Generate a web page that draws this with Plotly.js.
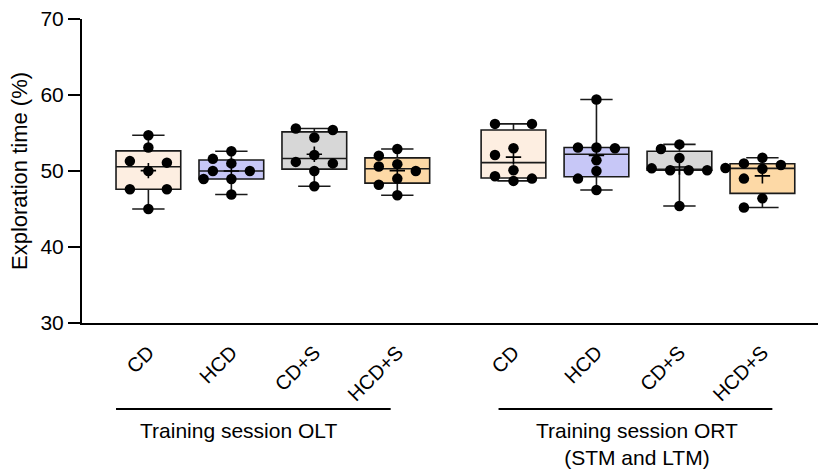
<!DOCTYPE html>
<html>
<head>
<meta charset="utf-8">
<script src="https://cdn.plot.ly/plotly-3.0.1.min.js"></script>
<style>html,body{margin:0;padding:0;background:#fff;}#chart{width:820px;height:469px;}</style>
</head>
<body>
<div id="chart"></div>
<script>
// ---- data ----
const categories = ['CD', 'HCD', 'CD+S', 'HCD+S'];
const sessionLabels = ['Training session OLT', 'Training session ORT<br>(STM and LTM)'];
const yTicks = [30, 40, 50, 60, 70];
const yTitle = 'Exploration time (%)';

const olt_CD   = [54.7, 53.1, 51.3, 51.1, 50.0, 47.6, 47.6, 45.0];
const olt_HCD  = [52.6, 51.6, 51.0, 50.0, 50.0, 48.95, 48.95, 46.9];
const olt_CDS  = [55.6, 55.4, 54.4, 52.1, 51.2, 51.0, 50.0, 48.0];
const olt_HCDS = [52.9, 52.0, 50.9, 50.6, 50.0, 49.0, 48.2, 46.8];

const ort_CD   = [56.2, 56.2, 53.0, 52.1, 50.1, 49.3, 49.0, 48.7];
const ort_HCD  = [59.4, 53.1, 53.1, 53.0, 51.4, 50.0, 49.0, 47.5];
const ort_CDS  = [53.5, 52.9, 51.7, 50.35, 50.1, 50.1, 50.1, 45.4];
const ort_HCDS = [51.75, 51.0, 50.8, 50.4, 50.3, 49.0, 46.4, 45.2];

const sessions = [
  [olt_CD, olt_HCD, olt_CDS, olt_HCDS],
  [ort_CD, ort_HCD, ort_CDS, ort_HCDS]
];

// ---- styles / layout constants ----
const fills = ['#FDEEE1', '#C7C7F7', '#D7D7D7', '#FDD9A6'];
const FONT = 'Liberation Sans, Arial, sans-serif';
const SESSION_STRIDE = 4.4;   // category units between session starts
const BOX_W = 0.78;
const PX_PER_X = 83;          // approx px per x unit
const PX_PER_Y = 7.6;         // approx px per y unit
const DOT_STEP_PX = 18.5;     // horizontal spacing between dot columns
const DOT_CLEAR = 10.5;       // min centre distance between dots (px)

// GraphPad-style (n+1) quantile
function quantile(sorted, p) {
  const n = sorted.length;
  const h = (n + 1) * p;
  if (h <= 1) return sorted[0];
  if (h >= n) return sorted[n - 1];
  const lo = Math.floor(h);
  return sorted[lo - 1] + (h - lo) * (sorted[lo] - sorted[lo - 1]);
}

// simple deterministic beeswarm offsets (in dot-column units)
function swarm(vals) {
  const order = vals.map((v, i) => i).sort((a, b) => vals[b] - vals[a]);
  const rows = [];
  order.forEach(i => {
    const last = rows[rows.length - 1];
    if (last && vals[last[last.length - 1]] - vals[i] <= 0.35) last.push(i);
    else rows.push([i]);
  });
  const placed = [];
  const off = new Array(vals.length).fill(0);
  const collides = (v, o, extra) => placed.concat(extra || []).some(p =>
    Math.hypot((p.o - o) * DOT_STEP_PX, (p.v - v) * PX_PER_Y) < DOT_CLEAR);
  const cands = [0, -1, 1, -0.5, 0.5, -1.5, 1.5, -2, 2, -2.5, 2.5, -3, 3];
  rows.forEach(row => {
    const n = row.length;
    if (n > 1) {
      const base = n === 2 ? [-1, 1] : row.map((_, k) => k - (n - 1) / 2);
      const tmp = [];
      let ok = true;
      row.forEach((i, k) => {
        if (collides(vals[i], base[k], tmp)) ok = false;
        tmp.push({v: vals[i], o: base[k]});
      });
      if (ok) {
        row.forEach((i, k) => { off[i] = base[k]; placed.push({v: vals[i], o: base[k]}); });
        return;
      }
    }
    row.forEach(i => {
      for (const c of cands) {
        if (!collides(vals[i], c)) { off[i] = c; placed.push({v: vals[i], o: c}); break; }
      }
    });
  });
  return off;
}

const traces = [];
const tickvals = [], ticktext = [];
const dotX = [], dotY = [], meanX = [], meanY = [];

sessions.forEach((groups, s) => {
  groups.forEach((vals, g) => {
    const pos = s * SESSION_STRIDE + g;
    tickvals.push(pos);
    ticktext.push(categories[g]);
    const sorted = vals.slice().sort((a, b) => a - b);
    traces.push({
      type: 'box',
      x: [pos],
      q1: [quantile(sorted, 0.25)],
      median: [quantile(sorted, 0.5)],
      q3: [quantile(sorted, 0.75)],
      lowerfence: [sorted[0]],
      upperfence: [sorted[sorted.length - 1]],
      width: BOX_W,
      whiskerwidth: 0.5,
      fillcolor: fills[g],
      line: {color: '#1a1a1a', width: 1.6},
      boxpoints: false,
      hoverinfo: 'skip',
      showlegend: false
    });
    const offs = swarm(vals);
    vals.forEach((v, i) => {
      dotX.push(pos + offs[i] * DOT_STEP_PX / PX_PER_X);
      dotY.push(v);
    });
    meanX.push(pos);
    meanY.push(vals.reduce((a, b) => a + b, 0) / vals.length);
  });
});

traces.push({
  type: 'scatter', mode: 'markers', x: dotX, y: dotY,
  marker: {color: '#000', size: 10.5, line: {width: 0}},
  hoverinfo: 'skip', showlegend: false
});
traces.push({
  type: 'scatter', mode: 'markers', x: meanX, y: meanY,
  marker: {symbol: 'cross-thin', color: '#000', size: 11, line: {color: '#000', width: 1.6}},
  hoverinfo: 'skip', showlegend: false
});

// group brackets and labels
const bracketSpans = [[-0.39, 2.92], [4.22, 7.52]];
const labelX = [1.09, 5.89];
const shapes = bracketSpans.map(sp => ({
  type: 'line', xref: 'x', yref: 'paper', x0: sp[0], x1: sp[1], y0: -0.283, y1: -0.283,
  line: {color: '#000', width: 2}
}));
const annotations = sessionLabels.map((t, k) => ({
  xref: 'x', yref: 'paper', x: labelX[k], y: -0.31, yanchor: 'top', xanchor: 'center',
  text: t, showarrow: false, font: {family: FONT, size: 21, color: '#000'}
}));

const layout = {
  width: 820, height: 469,
  margin: {l: 82, r: 2, t: 19, b: 146},
  paper_bgcolor: '#fff', plot_bgcolor: '#fff',
  font: {family: FONT, color: '#000'},
  showlegend: false,
  xaxis: {
    type: 'linear', range: [-0.8, 8.07],
    tickvals: tickvals, ticktext: ticktext, tickangle: -45,
    ticks: '', showgrid: false, zeroline: false,
    showline: true, linecolor: '#000', linewidth: 2,
    tickfont: {family: FONT, size: 20, color: '#000'},
    ticklabelstandoff: 8,
    automargin: false
  },
  yaxis: {
    range: [30, 70], tickvals: yTicks,
    ticks: 'outside', ticklen: 12, tickwidth: 2, tickcolor: '#000',
    showgrid: false, zeroline: false,
    showline: true, linecolor: '#000', linewidth: 2,
    tickfont: {family: FONT, size: 21, color: '#000'},
    title: {text: yTitle, font: {family: FONT, size: 22, color: '#000'}},
    automargin: false
  },
  shapes: shapes,
  annotations: annotations
};

Plotly.newPlot('chart', traces, layout, {displayModeBar: false, staticPlot: true});
</script>
</body>
</html>
